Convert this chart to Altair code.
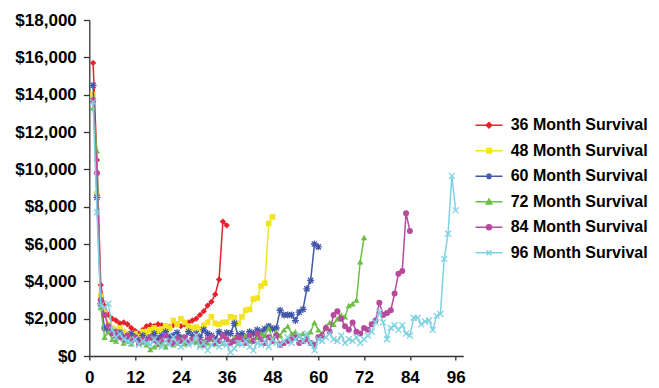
import altair as alt
import pandas as pd

# ---------------- data ----------------
series_names = [
    "36 Month Survival",
    "48 Month Survival",
    "60 Month Survival",
    "72 Month Survival",
    "84 Month Survival",
    "96 Month Survival",
]

cost_36 = [15700, 10500, 3800, 2700, 2200, 2000, 1900, 1750, 1800, 1700,
           1500, 1350, 1200, 1400, 1600, 1650, 1600, 1700, 1650, 1600,
           1550, 1650, 1700, 1600, 1700, 1800, 1900, 2000, 2200, 2400,
           2700, 2900, 3300, 4100, 7200, 7000]

cost_48 = [14000, 8700, 3200, 2300, 1700, 1500, 1400, 1500, 1300, 1200,
           1100, 1200, 1050, 1300, 1250, 1400, 1500, 1350, 1450, 1600,
           1500, 1900, 1700, 2000, 1800, 1600, 1500, 1550, 1450, 1650,
           1800, 2100, 1750, 1700, 1800, 1800, 2100, 2050, 1750, 2100,
           2450, 2500, 3050, 3100, 3750, 3900, 7100, 7450]

cost_60 = [14500, 8500, 2800, 1500, 1400, 1300, 1100, 1250, 1000, 900,
           1200, 1000, 850, 1100, 900, 1000, 1200, 950, 1100, 1300,
           1000, 1100, 1250, 1000, 900, 1300, 1100, 1200, 1000, 1400,
           1200, 1100, 900, 1300, 1100, 1250, 1200, 1750, 1100, 1200,
           1000, 1300, 1200, 1400, 1300, 1450, 1600, 1450, 1500, 2450,
           2200, 2200, 2200, 1900, 2350, 2500, 3600, 4050, 6000, 5850]

cost_72 = [13300, 11000, 2600, 1000, 1300, 900, 800, 1000, 700, 800,
           650, 900, 700, 750, 600, 350, 500, 600, 700, 500,
           800, 600, 700, 900, 650, 700, 800, 750, 600, 800,
           700, 900, 650, 850, 700, 900, 800, 1000, 700, 900,
           1100, 800, 900, 1000, 1200, 1100, 1500, 900, 1300, 1100,
           1400, 1600, 1200, 1300, 1100, 1200, 1000, 1300, 1800, 1400,
           1200, 1600, 1800, 1700, 2000, 2200, 2100, 2700, 2800, 3000,
           5050, 6350]

cost_84 = [13700, 9800, 3000, 2200, 1600, 1200, 1300, 1000, 900, 1100,
           800, 1000, 700, 900, 800, 1000, 850, 700, 900, 1100,
           800, 700, 950, 800, 1000, 700, 900, 1100, 800, 600,
           900, 1000, 700, 800, 1100, 900, 700, 800, 1000, 900,
           700, 1100, 800, 1200, 900, 700, 1000, 800, 1100, 600,
           700, 800, 900, 1000, 700, 800, 900, 700, 600, 1000,
           1100, 1500, 1300, 2200, 2400, 2000, 1600, 1400, 1800, 1300,
           1200, 1500, 1400, 1700, 1900, 2850, 2200, 2300, 2450, 3350,
           4400, 4550, 7650, 6700]

cost_96 = [13600, 7700, 2700, 2600, 2800, 1400, 1000, 1200, 900, 800,
           700, 900, 600, 800, 700, 600, 900, 700, 500, 800,
           600, 1000, 700, 500, 800, 600, 700, 1100, 500, 700,
           300, 600, 800, 500, 700, 600, 200, 400, 700, 600,
           800, 500, 300, 700, 600, 800, 500, 900, 700, 600,
           800, 1000, 700, 900, 1100, 800, 1200, 700, 300, 900,
           800, 1000, 1200, 900, 800, 1100, 700, 900, 800, 1000,
           700, 900, 1100, 1300, 1800, 2350, 1800, 900, 1500, 1650,
           1400, 1650, 1200, 1100, 2050, 2050, 1700, 1850, 1900, 1400,
           2150, 2250, 5200, 6550, 9650, 7800]

series_costs = [cost_36, cost_48, cost_60, cost_72, cost_84, cost_96]

x_ticks = [0, 12, 24, 36, 48, 60, 72, 84, 96]
y_ticks = [0, 2000, 4000, 6000, 8000, 10000, 12000, 14000, 16000, 18000]

rows = []
for name, costs in zip(series_names, series_costs):
    for m, c in enumerate(costs, start=1):
        rows.append({"Series": name, "Month": m, "Cost": c})
df = pd.DataFrame(rows)

# ---------------- styles ----------------
colors = ["#E8212B", "#F2E422", "#4357A8", "#6DBE45", "#B84A9E", "#7FD2E2"]
ASTERISK = "M-1,0L1,0M0,-1L0,1M-0.75,-0.75L0.75,0.75M-0.75,0.75L0.75,-0.75"
XMARK = "M-1,-1L1,1M-1,1L1,-1"
marker_shapes = ["diamond", "square", ASTERISK, "triangle-up", "circle", XMARK]
marker_filled = [True, True, False, True, True, False]
marker_sizes = [40, 32, 49, 40, 36, 36]

LN = "M-2.7,0L2.7,0"
legend_paths = [
    LN + "M0,-0.55L0.55,0L0,0.55L-0.55,0Z",
    LN + "M-0.45,-0.45L0.45,-0.45L0.45,0.45L-0.45,0.45Z",
    LN + "M0,-0.6L0,0.6M-0.45,-0.45L0.45,0.45M-0.45,0.45L0.45,-0.45",
    LN + "M0,-0.55L0.55,0.45L-0.55,0.45Z",
    LN + "M-0.5,0A0.5,0.5,0,1,0,0.5,0A0.5,0.5,0,1,0,-0.5,0Z",
    LN + "M-0.5,-0.5L0.5,0.5M-0.5,0.5L0.5,-0.5",
]

FONT = "Liberation Sans"
FSIZE = 17

x_enc = alt.X(
    "Month:Q",
    scale=alt.Scale(domain=[0, 98], nice=False, zero=True),
    axis=alt.Axis(values=x_ticks, title=None, grid=False, tickSize=4,
                  labelPadding=9, labelFlush=False, labelOverlap=False),
)
y_enc = alt.Y(
    "Cost:Q",
    scale=alt.Scale(domain=[0, 18000], nice=False, zero=True),
    axis=alt.Axis(values=y_ticks, format="$,.0f", title=None, grid=False,
                  tickSize=6, labelPadding=7, labelOverlap=False),
)

layers = []
for i, name in enumerate(series_names):
    base = alt.Chart(df).transform_filter(alt.datum.Series == name)
    line = base.mark_line(color=colors[i], strokeWidth=1.5).encode(x=x_enc, y=y_enc)
    if marker_filled[i]:
        pts = base.mark_point(shape=marker_shapes[i], filled=True, fill=colors[i],
                              size=marker_sizes[i], opacity=1)
    else:
        pts = base.mark_point(shape=marker_shapes[i], filled=False, stroke=colors[i],
                              strokeWidth=1.3, size=marker_sizes[i], opacity=1)
    pts = pts.encode(x=x_enc, y=y_enc)
    layers += [line, pts]

leg = alt.Legend(
    title=None, orient="none", legendX=391.7, legendY=97.2,
    labelFont=FONT, labelFontSize=16, labelFontWeight="bold", labelColor="black",
    labelOffset=13.7, rowPadding=9.5, symbolSize=100, symbolStrokeWidth=1.5,
    padding=0, labelLimit=400,
)
legend_layer = (
    alt.Chart(df)
    .transform_filter("datum.Month < 0")
    .mark_point(filled=True, opacity=1)
    .encode(
        x=x_enc,
        y=y_enc,
        fill=alt.Fill("Series:N", scale=alt.Scale(domain=series_names, range=colors), legend=leg),
        stroke=alt.Stroke("Series:N", scale=alt.Scale(domain=series_names, range=colors), legend=leg),
        shape=alt.Shape("Series:N", scale=alt.Scale(domain=series_names, range=legend_paths), legend=leg),
    )
)

chart = (
    alt.layer(*layers, legend_layer)
    .properties(
        width=374,
        height=336,
        autosize=alt.AutoSizeParams(type="none"),
        padding={"left": 81.3, "top": 12, "right": 187.7, "bottom": 32},
    )
    .configure_view(stroke=None)
    .configure_axis(
        labelFont=FONT, labelFontSize=FSIZE, labelFontWeight="bold", labelColor="black",
        domainColor="#333333", tickColor="#333333", domainWidth=1.3, tickWidth=1.3,
    )
)

chart.save("out.html", embed_options={"renderer": "svg", "actions": False})
